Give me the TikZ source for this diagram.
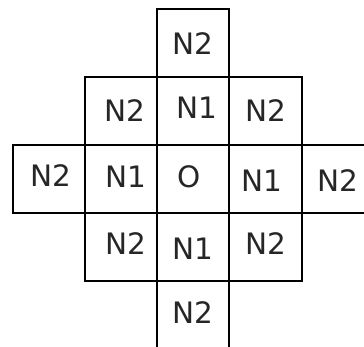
\documentclass[tikz,border=0pt]{standalone}
\usepackage{fontspec}
\setmainfont{DejaVu Sans}
\begin{document}
\begin{tikzpicture}[x=1pt,y=-1pt,
  cell/.style={draw=black, line width=1.8pt},
  lbl/.style={inner sep=0pt, font=\fontsize{29.5}{31}\selectfont, text=black!85}]
\useasboundingbox (0,0) rectangle (364,347);
\clip (0,0) rectangle (364,347);
\fill[white] (0,0) rectangle (364,347);
% cells
\draw[cell] (157,9) rectangle (229.3,77);
\draw[cell] (85.3,77) rectangle (157,145);
\draw[cell] (157,77) rectangle (229.3,145);
\draw[cell] (229.3,77) rectangle (302,145);
\draw[cell] (12.7,145) rectangle (85.3,212.7);
\draw[cell] (85.3,145) rectangle (157,212.7);
\draw[cell] (157,145) rectangle (229.3,212.7);
\draw[cell] (229.3,145) rectangle (302,212.7);
\draw[cell] (302,145) rectangle (374.6,212.7);
\draw[cell] (85.3,212.7) rectangle (157,281);
\draw[cell] (157,212.7) rectangle (229.3,281);
\draw[cell] (229.3,212.7) rectangle (302,281);
\draw[cell] (157,281) rectangle (229.3,349);
% labels
\node[lbl] (t)   at (192.5,44)  {N2};
\node[lbl] (a1)  at (125,111)   {N2};
\node[lbl] (a2)  at (197,107.7) {N1};
\node[lbl] (a3)  at (265.5,111) {N2};
\node[lbl] (b1)  at (50.8,176)  {N2};
\node[lbl] (b2)  at (125.7,177) {N1};
\node[lbl] (b3)  at (189.5,177) {O};
\node[lbl] (b4)  at (262,181)   {N1};
\node[lbl] (b5)  at (338,181)   {N2};
\node[lbl] (c1)  at (126,244)   {N2};
\node[lbl] (c2)  at (193,249)   {N1};
\node[lbl] (c3)  at (265.5,244) {N2};
\node[lbl] (d)   at (192.5,312.5) {N2};
\end{tikzpicture}
\end{document}
